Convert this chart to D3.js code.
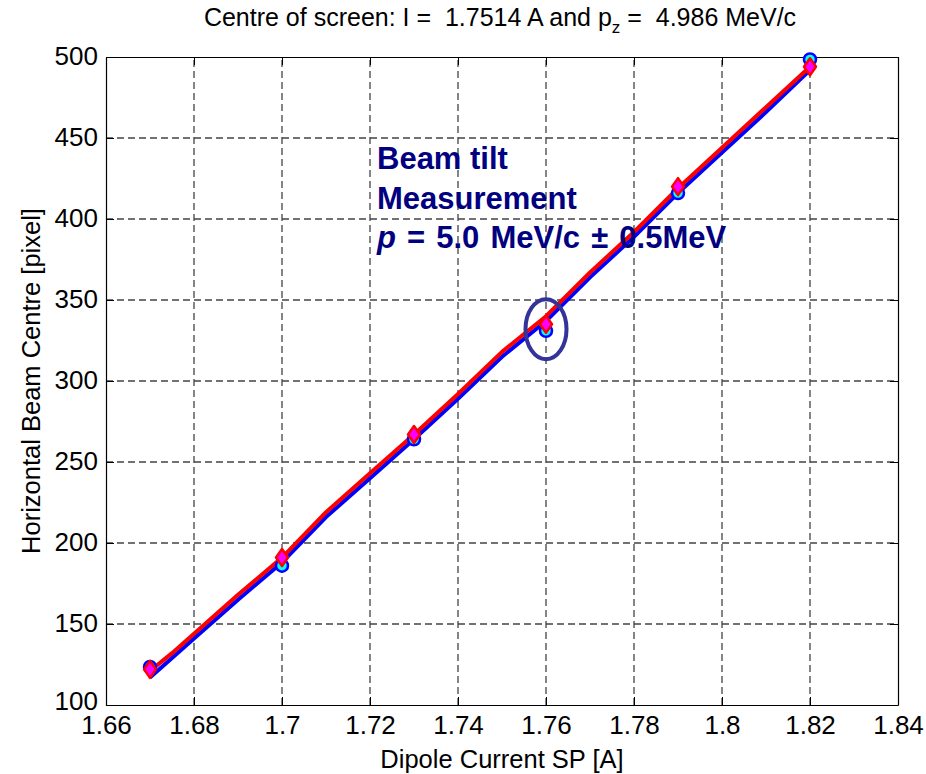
<!DOCTYPE html>
<html><head><meta charset="utf-8">
<script src="https://cdn.jsdelivr.net/npm/d3@7"></script>
<style>body{margin:0;background:#fff}svg{display:block}text{font-family:"Liberation Sans",Arial,sans-serif;white-space:pre}</style>
</head><body><svg id="c" width="926" height="774"></svg>
<script>
const xTicks = [1.66,1.68,1.70,1.72,1.74,1.76,1.78,1.80,1.82,1.84];
const xTickLabels = ["1.66","1.68","1.7","1.72","1.74","1.76","1.78","1.8","1.82","1.84"];
const yTicks = [100,150,200,250,300,350,400,450,500];
const pointCurrents = [1.67,1.70,1.73,1.76,1.79,1.82];
const circleValues = [123.5,186,264,331,416,498.5];
const diamondValues = [122,191,267,335,420,494];
const lineCurrents = [1.67,1.675,1.68,1.69,1.70,1.71,1.72,1.73,1.74,1.75,1.76,1.77,1.78,1.79,1.80,1.81,1.82];
const blueLine = [117,129,141,165,188,216,240,264,289,315,337,364,389,416,441,466,492];
const redLine  = [121,132,144,168,191,219,243,267,292,318,340,367,392,419,444,469,494];
const annotLines = ["Beam tilt","Measurement"];
const ellipseCentre = {x:1.76, y:332, dx:0.00466, dy:18.5};

const W=926,H=774, m={l:106,r:28,t:57,b:69};
const svg=d3.select("#c");
const x=d3.scaleLinear().domain([1.66,1.84]).range([m.l,W-m.r]);
const y=d3.scaleLinear().domain([100,500]).range([H-m.b,m.t]);

// grid
const g=svg.append("g");
g.selectAll(".gx").data(xTicks.slice(1,-1)).enter().append("line")
 .attr("x1",d=>x(d)).attr("x2",d=>x(d)).attr("y1",y(100)).attr("y2",y(500))
 .attr("stroke","#444").attr("stroke-width",1.3).attr("stroke-dasharray","7,4");
g.selectAll(".gy").data(yTicks.slice(1,-1)).enter().append("line")
 .attr("y1",d=>y(d)).attr("y2",d=>y(d)).attr("x1",x(1.66)).attr("x2",x(1.84))
 .attr("stroke","#444").attr("stroke-width",1.3).attr("stroke-dasharray","7,4");

// axes
const fmtX=(d,i)=>xTickLabels[i];
const ax=svg.append("g").attr("transform",`translate(0,${y(100)})`)
 .call(d3.axisBottom(x).tickValues(xTicks).tickFormat(fmtX).tickSizeInner(-8).tickSizeOuter(0).tickPadding(6));
const axT=svg.append("g").attr("transform",`translate(0,${y(500)})`)
 .call(d3.axisTop(x).tickValues(xTicks).tickFormat("").tickSizeInner(-8).tickSizeOuter(0));
const ay=svg.append("g").attr("transform",`translate(${x(1.66)},0)`)
 .call(d3.axisLeft(y).tickValues(yTicks).tickSizeInner(-8).tickSizeOuter(0).tickPadding(8));
const ayR=svg.append("g").attr("transform",`translate(${x(1.84)},0)`)
 .call(d3.axisRight(y).tickValues(yTicks).tickFormat("").tickSizeInner(-8).tickSizeOuter(0));
[ax,axT,ay,ayR].forEach(a=>{a.select(".domain").attr("stroke","#000").attr("stroke-width",1.2);
 a.selectAll(".tick line").attr("stroke","#000");
 a.selectAll("text").attr("font-size",26).attr("fill","#000").style("font-family","'Liberation Sans',Arial,sans-serif");});
ax.selectAll("text").attr("dy","0.88em");
ay.selectAll("text").attr("dy",d=>d===100?"0.18em":"0.3em");

// lines
const lineGen=vals=>d3.line().x((d,i)=>x(lineCurrents[i])).y(d=>y(d))(vals);
svg.append("path").attr("d",lineGen(blueLine)).attr("fill","none").attr("stroke","#0000ff").attr("stroke-width",4).attr("stroke-linejoin","round");
svg.append("path").attr("d",lineGen(redLine)).attr("fill","none").attr("stroke","#ff0000").attr("stroke-width",4).attr("stroke-linejoin","round");

// markers
svg.selectAll(".circ").data(circleValues).enter().append("circle")
 .attr("cx",(d,i)=>x(pointCurrents[i])).attr("cy",d=>y(d)).attr("r",6)
 .attr("fill","#00ffff").attr("stroke","#0000ff").attr("stroke-width",2.5);
svg.selectAll(".dia").data(diamondValues).enter().append("path")
 .attr("transform",(d,i)=>`translate(${x(pointCurrents[i])},${y(d)})`)
 .attr("d","M0,-8.5L6,0L0,8.5L-6,0Z")
 .attr("fill","#ff00ff").attr("stroke","#ff0000").attr("stroke-width",2.5).attr("stroke-linejoin","round");

// ellipse
svg.append("ellipse").attr("cx",x(ellipseCentre.x)).attr("cy",y(ellipseCentre.y))
 .attr("rx",x(ellipseCentre.x+ellipseCentre.dx)-x(ellipseCentre.x))
 .attr("ry",y(ellipseCentre.y)-y(ellipseCentre.y+ellipseCentre.dy))
 .attr("fill","none").attr("stroke","#333399").attr("stroke-width",4);

// annotation
const at=svg.append("g").attr("fill","#000080").attr("font-weight","bold").attr("font-size",31);
annotLines.forEach((t,i)=>at.append("text").attr("x",377).attr("y",169+i*39.5).text(t));
const t3=at.append("text").attr("x",377).attr("y",248).attr("word-spacing",2.5);
t3.append("tspan").attr("font-style","italic").text("p");
t3.append("tspan").text(" = 5.0 MeV/c ± 0.5MeV");

// title
const tt=svg.append("text").attr("x",500).attr("y",26).attr("text-anchor","middle").attr("font-size",25).attr("fill","#000");
tt.append("tspan").text("Centre of screen: I =  1.7514 A and p");
tt.append("tspan").attr("font-size",17).attr("dy",7).text("z");
tt.append("tspan").attr("dy",-7).text(" =  4.986 MeV/c");

// axis labels
svg.append("text").attr("x",x(1.75)).attr("y",768).attr("text-anchor","middle").attr("font-size",25.5).text("Dipole Current SP [A]");
svg.append("text").attr("transform",`translate(40,${y(300)}) rotate(-90)`).attr("text-anchor","middle").attr("font-size",25.5).text("Horizontal Beam Centre [pixel]");
</script></body></html>
